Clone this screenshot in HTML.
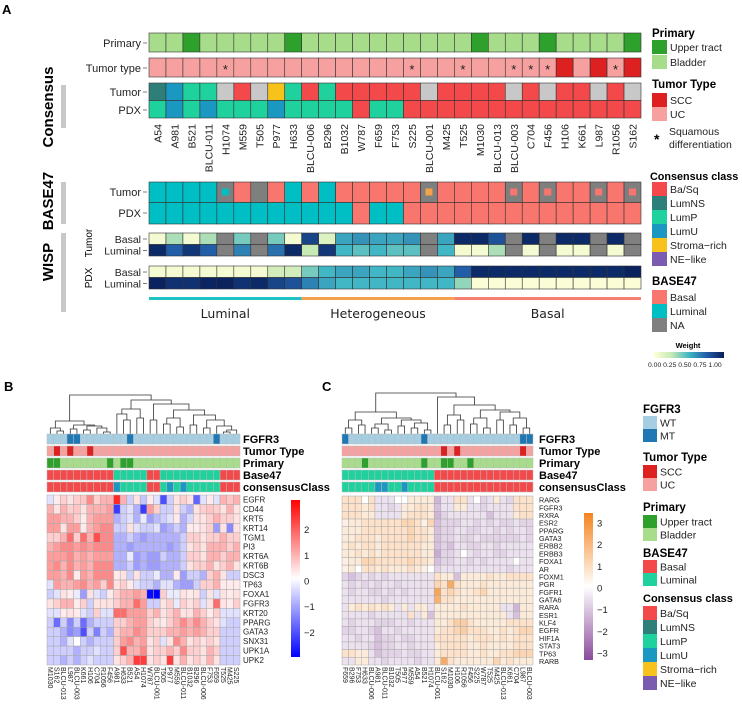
<!DOCTYPE html>
<html><head><meta charset="utf-8"><style>
html,body{margin:0;padding:0;background:#fff;}
svg{display:block;font-family:"Liberation Sans",sans-serif;}
</style></head><body>
<svg id="fig" width="742" height="709" viewBox="0 0 742 709" xmlns="http://www.w3.org/2000/svg">
<defs>
<linearGradient id="gW" x1="0" x2="1" y1="0" y2="0"><stop offset="0" stop-color="#ffffd9"/><stop offset="0.25" stop-color="#c7e9b4"/><stop offset="0.5" stop-color="#41b6c4"/><stop offset="0.75" stop-color="#225ea8"/><stop offset="1" stop-color="#081d58"/></linearGradient>
<linearGradient id="gB" x1="0" x2="0" y1="0" y2="1"><stop offset="0" stop-color="#ff0000"/><stop offset="0.5" stop-color="#ffffff"/><stop offset="1" stop-color="#0000ff"/></linearGradient>
<linearGradient id="gC" x1="0" x2="0" y1="0" y2="1"><stop offset="0" stop-color="#f5841f"/><stop offset="0.5" stop-color="#ffffff"/><stop offset="1" stop-color="#8b4a9c"/></linearGradient>
</defs>
<g id="A"></g>
<g id="B"></g>
<g id="C"></g>
<g id="L"></g>
</svg>
<script>
// ---------- Panel A data ----------
const samples = ["A54","A981","B521","BLCU-011","H1074","M559","T505","P977","H633","BLCU-006","B296","B1032","W787","F659","F753","S225","BLCU-001","M425","T525","M1030","BLCU-013","BLCU-003","C704","F456","H106","K661","L987","R1056","S162"];
const primaryUpper = ["B521","H633","M1030","F456","S162"];
const sccSamples = ["H106","L987","S162"];
const squamousDiff = ["H1074","S225","T525","BLCU-003","C704","F456","R1056"];
const consTumor = ["LumNS","LumU","LumP","LumP","NA","BaSq","NA","Stroma","LumP","BaSq","LumP","BaSq","BaSq","BaSq","BaSq","BaSq","NA","BaSq","BaSq","BaSq","BaSq","NA","BaSq","NA","BaSq","BaSq","NA","BaSq","NA"];
const consPDX = ["LumP","LumU","LumP","LumU","LumP","LumP","LumP","LumU","LumP","LumP","LumP","LumP","BaSq","LumP","LumP","BaSq","BaSq","BaSq","BaSq","BaSq","BaSq","BaSq","BaSq","BaSq","BaSq","BaSq","BaSq","BaSq","BaSq"];
const b47Tumor = ["L","L","L","L","NA:L","B","NA","B","L","B","L","B","B","B","B","B","NA:S","B","B","B","B","NA:B","B","NA:B","B","B","NA:B","B","NA:B"];
const b47PDX = ["L","L","L","L","L","L","L","L","L","L","L","L","B","L","L","B","B","B","B","B","B","B","B","B","B","B","B","B","B"];
const wispTumorBasal = [0.05,0.3,0.05,0.3,null,0.4,null,0.4,0.05,0.85,0.15,0.55,0.6,0.55,0.55,0.6,null,0.55,0.95,0.95,0.8,null,0.95,null,0.95,0.95,null,0.95,null];
const wispTumorLuminal = [0.95,0.75,0.9,0.75,null,0.65,null,0.7,0.95,0.25,0.9,0.5,0.45,0.5,0.45,0.45,null,0.5,0.05,0.05,0.3,null,0.05,null,0.05,0.05,null,0.05,null];
const wispPDXBasal = [0.05,0.05,0.05,0.05,0.05,0.05,0.05,0.2,0.2,0.4,0.5,0.55,0.55,0.5,0.5,0.55,0.6,0.55,0.75,0.95,0.95,0.95,0.95,0.95,0.95,0.95,0.95,0.95,0.98];
const wispPDXLuminal = [0.98,0.92,0.92,0.97,0.98,0.92,0.95,0.85,0.8,0.65,0.55,0.5,0.5,0.5,0.5,0.5,0.5,0.5,0.35,0.02,0.02,0.02,0.02,0.02,0.02,0.02,0.02,0.02,0.02];
const groups = [["Luminal",0,9,"#21c0c5"],["Heterogeneous",9,18,"#f5a04a"],["Basal",18,29,"#f57f72"]];
const fgfr3MT = ["L987","BLCU-003","B521","F659"];

// ---------- Panel B data ----------
const orderB = ["M1030","S162","BLCU-013","L987","BLCU-003","K661","H106","C704","R1056","F456","A981","H633","B521","A54","H1074","W787","BLCU-001","T505","P977","M559","BLCU-011","B1032","B296","BLCU-006","F753","F659","T525","M425","S225"];
const genesB = ["EGFR","CD44","KRT5","KRT14","TGM1","PI3","KRT6A","KRT6B","DSC3","TP63","FOXA1","FGFR3","KRT20","PPARG","GATA3","SNX31","UPK1A","UPK2"];
const exprB = [
[-0.3,0.2,0.5,0.3,0.5,0.6,1.2,0.5,0.8,0.8,2.2,0.8,-0.5,0.3,-0.6,0.2,-0.3,-1.8,-0.5,0.3,0.5,0.3,-1.6,-0.3,0.2,-0.3,0.8,0.6,0.8],
[0.8,0.3,0.8,0.5,0.6,0.3,0.8,0.8,0.8,1.0,-2.0,-0.5,-0.3,-0.8,-2.0,1.0,0.5,-0.5,-0.5,0.3,-0.5,-0.8,0.3,0.5,0.6,0.5,0.3,0.8,0.3],
[1.0,1.0,0.8,0.8,0.5,0.2,0.8,1.0,1.0,1.0,-0.8,-0.5,-0.3,-0.8,-0.2,-1.0,-0.7,-0.5,-0.3,0.2,-0.8,-0.4,0.3,0.3,0.5,0.8,0.5,0.5,0.3],
[1.0,1.0,0.3,1.0,1.0,0.2,0.8,1.0,1.2,1.2,-0.5,-0.5,0.3,-0.3,-0.5,-0.5,-0.3,-1.0,-0.8,-0.5,-0.8,0.2,0.2,0.3,0.5,-1.0,0.3,-1.2,0.3],
[0.5,0.5,0.8,1.5,0.5,1.5,0.8,1.8,1.2,1.2,-0.8,-0.8,-0.5,-0.8,-1.0,-0.8,-0.8,-0.8,-0.8,-0.8,-0.5,0.5,0.5,0.3,0.5,0.5,0.8,0.5,0.5],
[0.8,1.0,1.2,1.2,1.0,1.2,1.0,1.2,1.2,1.2,-0.8,-0.8,-1.0,-0.8,-0.8,-0.8,-0.8,-0.8,-1.0,-0.8,-0.5,0.3,0.5,0.3,0.8,0.8,0.8,0.5,0.8],
[1.0,1.0,1.0,1.2,0.8,1.0,0.8,1.0,1.0,1.0,-0.8,-0.8,-0.2,-1.0,-0.8,-1.0,-1.0,-0.5,-0.8,-0.8,-0.5,0.5,0.5,0.3,0.8,0.8,0.5,0.8,0.8],
[1.0,1.2,0.8,1.2,0.8,1.0,0.8,1.2,1.2,1.2,-0.8,-0.8,-0.5,-1.0,-0.8,-1.0,-1.0,-0.8,-0.8,-0.8,-0.5,0.3,0.5,0.5,0.8,0.3,0.5,0.8,0.3],
[1.0,1.0,0.8,1.2,0.2,1.0,0.8,1.2,1.2,1.2,0.2,0.3,-0.5,0.3,-0.5,-0.5,-0.2,-0.8,-0.8,0.2,-1.0,-0.5,-0.5,-0.8,0.5,0.8,0.3,-0.5,-0.5],
[-0.3,1.0,0.8,0.8,1.0,1.2,0.8,1.0,0.5,1.2,0.3,0.5,0.2,-0.3,-0.5,-0.5,-0.8,-0.3,-0.3,-0.8,-1.0,-1.0,-0.5,0.5,0.5,0.8,0.2,0.2,0.2],
[-0.5,-0.3,0.3,0.2,-0.2,-1.0,0.3,-0.3,-0.5,0.2,0.5,0.8,0.8,1.0,0.8,-2.5,-2.6,0.5,-0.2,-0.2,0.3,0.2,0.3,-0.5,0.3,-0.3,0.3,0.2,0.3],
[0.3,0.5,0.8,0.8,0.2,0.5,-0.5,0.3,0.3,0.3,0.5,0.8,0.8,1.5,1.0,-0.5,-0.5,0.3,0.5,-0.2,0.5,0.3,0.5,-0.3,0.3,1.5,0.3,0.2,0.5],
[-0.3,-0.3,0.2,0.3,0.2,-0.3,-0.5,0.5,-0.3,-0.3,1.5,1.5,1.0,1.0,1.0,0.5,0.8,0.3,0.5,0.8,0.3,0.3,0.8,0.5,0.2,0.5,-0.3,-0.3,-0.3],
[-0.5,-1.5,-0.5,-1.2,-0.5,-1.5,-0.8,-0.5,-0.5,-0.5,0.5,0.5,0.8,1.0,1.0,0.5,0.3,0.2,0.5,0.8,1.2,0.8,1.2,0.8,0.5,0.3,-0.3,-0.5,-0.5],
[-0.5,-0.5,-0.8,-1.2,-1.0,-1.8,-0.5,-1.3,-0.5,-0.8,0.5,0.8,0.8,1.2,1.0,0.5,0.5,0.5,0.8,0.8,1.0,0.8,1.0,0.8,0.5,0.5,-0.5,-0.5,-0.5],
[-0.5,-0.5,-0.8,-0.3,0.0,-0.5,-0.8,-0.5,-0.5,-0.5,0.5,1.0,1.2,0.8,1.0,0.3,0.5,-0.3,0.3,1.2,0.8,0.3,0.5,0.3,0.5,0.3,-0.5,-0.5,-0.5],
[-0.5,-0.5,-0.5,-0.5,-0.8,-0.5,-0.5,-0.3,-0.5,-0.5,0.5,1.8,0.8,0.8,1.2,0.3,0.5,0.5,0.8,0.5,1.2,0.5,0.5,0.3,0.8,0.5,-0.5,-0.5,-0.5],
[-0.5,-0.5,-0.8,-0.5,-0.8,-0.5,-0.3,-0.5,-0.5,-0.5,0.3,0.5,0.8,2.0,2.0,0.3,0.5,0.3,2.0,0.3,0.8,0.3,0.5,0.3,0.8,0.3,-0.5,-0.5,-0.5]];
const ticksB = [2,1,0,-1,-2];

// ---------- Panel C data ----------
const orderC = ["F659","B296","F753","H633","BLCU-006","A981","BLCU-011","B1032","T505","P977","M559","A54","B521","H1074","BLCU-001","S162","M1030","H106","R1056","F456","S225","W787","T525","M425","BLCU-013","K661","C704","L987","BLCU-003"];
const genesC = ["RARG","FGFR3","RXRA","ESR2","PPARG","GATA3","ERBB2","ERBB3","FOXA1","AR","FOXM1","PGR","FGFR1","GATA6","RARA","ESR1","KLF4","EGFR","HIF1A","STAT3","TP63","RARB"];
const exprC = [
[0.5,0.5,0.5,0,0.5,-0.3,-0.3,-0.3,0,0,0.3,0.3,0.3,0.3,-1.0,-0.3,-0.3,0.5,0.5,-0.3,0,-0.5,-0.3,0.3,-0.3,-0.5,0.5,0.5,0.5],
[0.5,0.5,0.5,0.3,0.5,-0.3,-0.3,-0.5,-0.3,0.3,0.3,0.5,0.5,0.3,-0.8,-0.3,-0.3,0.3,0.3,-0.3,-0.3,-0.5,-0.3,-0.3,-0.3,-0.3,0.5,0.5,0.5],
[0.5,0.5,0.5,0.3,0.3,-0.3,-0.3,-0.3,-0.3,0.3,0.5,0.5,0.5,0.3,-1.0,-0.5,-0.3,-0.3,-0.3,-0.3,-0.3,-0.3,-0.8,-0.3,-0.3,-0.3,0.3,0.5,0.5],
[0.2,0.3,0.3,0.5,0.5,0.5,0.5,0.5,0.5,0.8,0.8,0.5,0.2,0.8,-0.8,-0.5,-0.5,-0.5,-0.3,-0.3,-0.5,-0.3,-0.5,-0.3,-0.5,-0.5,-0.3,-0.5,-0.5],
[0.3,0.3,0.3,0.5,0.5,0.5,0.5,0.5,0.5,0.5,0.8,0.5,0.5,0.3,-0.8,-0.5,-0.5,-0.3,-0.3,-0.5,-0.5,-0.3,-0.3,-0.5,-0.3,-0.5,-0.3,-0.3,-0.5],
[0.3,0.3,0.5,0.5,0.5,0.3,0.5,0.5,0.5,0.5,0.8,0.5,0.5,0.3,-0.8,-0.5,-0.5,-0.3,-0.5,-0.5,-0.3,-0.5,-0.5,-0.5,-0.5,-0.5,-0.5,-0.3,-0.5],
[0.3,0.5,0.3,0.5,0.5,0.3,0.5,0.5,0.5,0.5,0.5,0.5,0.3,0.3,-0.8,-0.5,-0.8,-0.3,-0.3,-0.5,-0.5,-0.3,-0.3,-0.5,-0.3,-0.3,-0.3,-0.3,-0.3],
[0.3,0.3,0.5,0.3,0.5,0.3,0.5,0.5,0.5,0.5,0.5,0.5,0.3,0.3,-1.2,-0.5,-0.5,-0.3,0,-0.3,-0.5,-0.3,-0.3,-0.5,-0.5,-0.3,-0.3,-0.3,-0.3],
[0.2,0.3,0.3,0.8,0.8,0.5,0.5,0.5,0.5,0.5,0.8,0.5,0.5,0.3,-0.8,-0.5,-0.5,-0.3,-0.3,-0.5,-0.3,-0.5,-0.3,-0.3,-0.3,-0.3,0.0,-0.3,-0.3],
[0.2,0.3,0,0.5,0.5,0.3,0.5,0.3,0.3,0.3,0.5,0.3,0.2,0,-0.5,-0.3,-0.3,-0.3,-0.3,-0.3,-0.3,-0.3,-0.3,-0.3,-0.3,-0.5,-0.3,-0.3,-0.3],
[-0.5,-0.8,-0.5,-0.3,-0.5,-0.3,-0.5,-0.3,-0.3,-0.3,-0.3,-0.3,-0.3,-0.3,0.5,0.3,0.3,-0.8,0.3,0.3,0.3,0.3,0.5,0.3,0.3,0.5,0.5,0.5,0.5],
[-0.3,-0.5,-0.3,-0.5,-0.3,-0.5,-0.3,-0.3,-0.5,-0.3,-0.3,-0.3,-0.3,-0.3,0.8,0.5,2.0,0.5,0.3,0.3,0.3,0.5,0.3,0.3,0.3,0.3,0.3,0.3,0.3],
[-0.3,-0.5,-0.3,-0.3,-0.5,-0.5,-0.3,-0.5,-0.3,-0.5,-0.3,-0.3,-0.3,-0.3,2.2,0.5,0.8,0.5,0.3,0.3,0.5,0.8,0.3,0.3,0.3,0.3,0.3,0.3,0.3],
[-0.3,-0.3,-0.3,-0.3,-0.3,-0.3,-0.5,-0.3,-0.3,-0.3,-0.3,-0.3,-0.3,-0.3,1.8,0.5,0.5,0.3,0.3,0.3,0.3,0.3,0.3,0.3,0.3,0.3,0.3,0.3,0.3],
[-0.3,0.3,0.5,0.3,0.5,0.3,0.5,0.3,-0.3,0.3,-0.3,0.3,0.3,-0.3,0.3,0.3,0.3,0.3,0.5,0.3,0.3,0.3,0.3,0.3,-0.3,-0.3,-1.0,0.3,0.3],
[-0.3,-0.3,-0.3,-0.3,-0.5,-0.3,-0.3,-0.3,-0.3,-0.3,0.5,-0.3,0.3,-0.8,0.3,0.3,0.3,0.3,0.3,0.3,0.3,0.3,0.3,0.3,0.3,-0.3,-0.8,0.3,0.3],
[-0.3,-0.5,-0.3,-0.3,-0.3,-0.5,-0.5,-0.5,-0.3,-0.3,-0.5,-0.3,-0.3,-0.3,0.3,0.3,0.5,1.0,1.0,0.5,0.3,0.3,0.3,0.3,0.3,0.5,0.5,0.5,0.5],
[-0.5,-0.5,-0.3,-0.3,-0.5,-0.8,-0.3,-0.3,-0.5,-0.3,-0.3,-0.3,-0.3,-0.3,0.3,0.5,0.5,0.8,1.0,0.5,0.5,0.5,0.3,0.3,0.5,0.3,0.5,0.8,0.8],
[-0.3,-0.3,-0.5,-0.3,-0.3,-0.8,-0.5,-0.5,-0.3,-0.5,-0.5,-0.3,-0.3,-0.3,0.5,0.5,0.5,0.5,0.5,0.3,0.5,0.5,0.5,0.3,0.5,0.3,0.5,0.5,0.5],
[-0.3,-0.3,-0.3,-0.3,-0.5,-0.8,-0.5,-0.5,-0.3,-0.3,-0.5,-0.3,-0.3,-0.3,0.3,0.5,0.5,0.5,0.5,0.3,0.3,0.5,0.3,0.3,0.3,0.3,0.5,0.5,0.5],
[0.5,0.5,0.3,0.3,-0.3,-0.8,-0.5,-0.5,-0.5,-0.3,-0.5,-0.5,-0.3,-0.3,0.3,0.5,0.5,0.5,0.5,0.3,0.3,0.5,0.3,0.3,0.5,0.5,0.8,0.8,0.8],
[-0.3,-0.3,0.3,0.3,-0.3,-0.3,-0.5,-0.3,-0.3,-0.3,-0.3,-0.5,-0.3,-0.3,0.3,2.0,0.5,0.3,0.3,0.3,0.3,0.3,0.3,0.8,0.3,0.5,0.3,0.3,0.3]];
const ticksC = [3,2,1,0,-1,-2,-3];

// dendrogram topologies (merge heights in px-from-top, leaves = column index)
const treeB = [395,[421,[428,0,[431,1,2]],[425,[429,3,4],[426,[430,5,6],[428,7,[432,8,9]]]]],[400,[409,[414,10,[420,11,12]],[418,13,14]],[404,[420,15,16],[410,[418,[424,17,18],[427,19,20]],[415,[425,21,22],[420,[428,23,24],[426,25,[430,[432,26,27],28]]]]]]]];
const treeC = [393,[412,[420,[428,0,1],[425,2,3]],[418,[424,[428,4,5],[430,6,7]],[420,[426,8,9],[423,[428,10,11],[430,12,13]]]]],[397,14,[405,[415,[425,15,16],[420,17,18]],[410,[418,[424,19,20],[428,21,22]],[412,[420,23,24],[418,[425,25,26],[428,27,28]]]]]]];

// ---------- helpers ----------
const NS="http://www.w3.org/2000/svg";
function mk(parent,tag,attrs,text){const e=document.createElementNS(NS,tag);for(const k in attrs)e.setAttribute(k,attrs[k]);if(text!==undefined)e.textContent=text;parent.appendChild(e);return e;}
const consCol={BaSq:"#f4494b",LumNS:"#2e7f7a",LumP:"#1fd19c",LumU:"#1a98c1",Stroma:"#f6c21b",NE:"#7b5bb0",NA:"#c8c8c8"};
const b47Col={B:"#f8766d",L:"#00bfc4",NA:"#7f7f7f",S:"#f5a04a"};
const b47ColBC={B:"#f4494b",L:"#1fd19c"};
function lerp(a,b,t){return a.map((v,i)=>Math.round(v+(b[i]-v)*t));}
function hex(h){return [1,3,5].map(i=>parseInt(h.substr(i,2),16));}
function rgb(a){return "rgb("+a.join(",")+")";}
const ylg=["#ffffd9","#c7e9b4","#41b6c4","#225ea8","#081d58"].map(hex);
function wCol(v){if(v===null)return "#808080";const p=v*4;const i=Math.min(3,Math.floor(p));return rgb(lerp(ylg[i],ylg[i+1],p-i));}
function colB(v){const t=Math.min(1,Math.abs(v)/2.6);return rgb(lerp([255,255,255],v>0?[255,0,0]:[0,0,255],t));}
function colC(v){const t=Math.min(1,Math.pow(Math.abs(v)/3.3,0.75));return rgb(lerp([255,255,255],v>0?[245,132,31]:[139,74,156],t));}

// ---------- Panel A ----------
const A=document.getElementById("A");
mk(A,"text",{x:2,y:14,"font-size":13,"font-weight":"bold",},"A");
const ax0=149, acw=492/samples.length;
const xA=i=>ax0+i*acw;
function rowLabel(txt,y,size){const t=mk(A,"text",{x:141,y:y+4,"font-size":size||11,"text-anchor":"end",fill:"#222"},txt);


mk(A,"line",{x1:143,x2:147,y1:y,y2:y,stroke:"#444","stroke-width":0.7});}
function cell(g,x,y,w,h,fill,name,sw,sc){const r=mk(g,"rect",{x:x,y:y,width:w,height:h,fill:fill,stroke:sc||"#333","stroke-width":sw===undefined?0.6:sw});


return r;}
samples.forEach((s,i)=>{
  cell(A,xA(i),33,acw,19,primaryUpper.includes(s)?"#2ea02c":"#a6dc8a","primary-cell");
  cell(A,xA(i),58,acw,19,sccSamples.includes(s)?"#dd2020":"#f7a0a0","tumor-type-cell");
  if(squamousDiff.includes(s)){const t=mk(A,"text",{x:xA(i)+acw/2,y:74,"font-size":13,"text-anchor":"middle",fill:"#222"},"*");
    
    }
  cell(A,xA(i),83,acw,17.5,consCol[consTumor[i]],"consensus-tumor-cell");
  cell(A,xA(i),100.5,acw,17.5,consCol[consPDX[i]],"consensus-pdx-cell");
  const bt=b47Tumor[i].split(":");
  cell(A,xA(i),182,acw,20.5,b47Col[bt[0]],"base47-tumor-cell");
  if(bt[1]) cell(A,xA(i)+acw/2-3.5,188.5,7,7,b47Col[bt[1]],"base47-inner-cell",0);
  cell(A,xA(i),202.5,acw,21.5,b47Col[b47PDX[i]],"base47-pdx-cell");
  cell(A,xA(i),233,acw,11.5,wCol(wispTumorBasal[i]),"wisp-tumor-basal-cell");
  cell(A,xA(i),244.5,acw,11.5,wCol(wispTumorLuminal[i]),"wisp-tumor-luminal-cell");
  cell(A,xA(i),266,acw,11.5,wCol(wispPDXBasal[i]),"wisp-pdx-basal-cell");
  cell(A,xA(i),277.5,acw,11.5,wCol(wispPDXLuminal[i]),"wisp-pdx-luminal-cell");
  const cx=xA(i)+acw/2+4;
  const st=mk(A,"text",{x:cx,y:124,"font-size":10.5,"text-anchor":"end",fill:"#222",transform:`rotate(-90 ${cx} 124)`},s);
  
  
});
rowLabel("Primary",43);rowLabel("Tumor type",68);rowLabel("Tumor",92);rowLabel("PDX",110);
rowLabel("Tumor",192);rowLabel("PDX",213);rowLabel("Basal",239,10.5);rowLabel("Luminal",250.5,10.5);rowLabel("Basal",272,10.5);rowLabel("Luminal",283.5,10.5);
[["Consensus",107,85,128],["BASE47",201,182,224],["WISP",262,233,312]].forEach(([t,cy,y1,y2])=>{
  const e=mk(A,"text",{x:53,y:cy,"font-size":15,"font-weight":"bold","text-anchor":"middle",transform:`rotate(-90 53 ${cy})`},t);
  
  
  const r=mk(A,"rect",{x:61,y:y1,width:5,height:y2-y1,fill:"#c8c8c8"});
  
  
});
[["Tumor",243],["PDX",278]].forEach(([t,cy])=>{const e=mk(A,"text",{x:92,y:cy,"font-size":10,"text-anchor":"middle",transform:`rotate(-90 92 ${cy})`},t);
  
  });
groups.forEach(([name,s,e,c])=>{
  const r=mk(A,"rect",{x:xA(s),y:297,width:xA(e)-xA(s),height:3,fill:c});
  
  
  const t=mk(A,"text",{x:(xA(s)+xA(e))/2,y:318,"font-size":12.5,"text-anchor":"middle",fill:"#222","font-family":"DejaVu Sans, sans-serif"},name);
  
  
});

// ---------- heatmap panels ----------
const info={};samples.forEach((s,i)=>info[s]={pr:primaryUpper.includes(s),scc:sccSamples.includes(s),cons:consPDX[i],b47:b47PDX[i],mt:fgfr3MT.includes(s)});
function drawTree(g,node,xf,leafY){
  if(typeof node==="number") return [xf(node),leafY];
  const l=drawTree(g,node[1],xf,leafY), r=drawTree(g,node[2],xf,leafY), y=node[0];
  const p=mk(g,"path",{d:`M${l[0]} ${l[1]}V${y}H${r[0]}V${r[1]}`,fill:"none",stroke:"#333","stroke-width":0.8});
  
  
  return [(l[0]+r[0])/2,y];
}
function panel(g,label,lx,order,genes,expr,x0,x1,hy0,hy1,colf,tree,labX,bar,ticks,grad,tickStep){
  const t=mk(g,"text",{x:lx,y:391,"font-size":13,"font-weight":"bold"},label);
  
  
  const cw=(x1-x0)/order.length, x=i=>x0+i*cw;
  drawTree(g,tree,i=>x(i)+cw/2,434);
  const annRows=[["FGFR3",434,s=>info[s].mt?"#1f78b4":"#a6cee3"],["Tumor Type",446,s=>info[s].scc?"#dd2020":"#f7a0a0"],["Primary",458,s=>info[s].pr?"#2ea02c":"#a6dc8a"],["Base47",470,s=>b47ColBC[info[s].b47]],["consensusClass",482,s=>consCol[info[s].cons]]];
  annRows.forEach(([name,y,f])=>{
    order.forEach((s,i)=>cell(g,x(i),y,cw,10,f(s),"annotation-cell",0.5,"#bbb"));
    const e=mk(g,"text",{x:labX,y:y+9,"font-size":11,"font-weight":"bold"},name);
    
    
  });
  const rh=(hy1-hy0)/genes.length;
  genes.forEach((gn,r)=>{
    order.forEach((s,i)=>cell(g,x(i),hy0+r*rh,cw,rh,colf(expr[r][i]),"heat-cell",0.5,"#aaa"));
    const e=mk(g,"text",{x:labX,y:hy0+r*rh+rh/2+2.8,"font-size":rh>8.5?8:7.2,fill:"#222"},gn);
    
    
  });
  order.forEach((s,i)=>{const cx=x(i)+cw/2-2.5;const e=mk(g,"text",{x:cx,y:667,"font-size":7,fill:"#222",transform:`rotate(90 ${cx} 667)`},s);
    
    });
  const r=mk(g,"rect",{x:bar[0],y:bar[1],width:9,height:bar[2]-bar[1],fill:`url(#${grad})`});
  
  
  ticks.forEach(v=>{const e=mk(g,"text",{x:bar[0]+13,y:tickStep[0]-v*tickStep[1]+3.5,"font-size":9.5,fill:"#222"},v<0?"\u2212"+(-v):String(v));
    
    });
}
panel(document.getElementById("B"),"B",4,orderB,genesB,exprB,47,240,495,665,colB,treeB,243,[291,500,657],ticksB,"gB",[581,25.7]);
panel(document.getElementById("C"),"C",322,orderC,genesC,exprC,342,533,496,665,colC,treeC,539,[584,513,660],ticksC,"gC",[588,21.7]);

// ---------- legends ----------
const Lg=document.getElementById("L");
function legTitle(t,x,y,fs){const e=mk(Lg,"text",{x:x,y:y,"font-size":fs||11.5,"font-weight":"bold"},t);
  
  }
function legItem(t,c,x,y,w,h){const r=mk(Lg,"rect",{x:x,y:y,width:w,height:h,fill:c});
  
  
  const e=mk(Lg,"text",{x:x+w+3,y:y+h/2+3.8,"font-size":10.5,fill:"#222"},t);
  
  }
// Panel A legend
legTitle("Primary",652,37);legItem("Upper tract","#2ea02c",652,40,15,14);legItem("Bladder","#a6dc8a",652,55,15,14);
legTitle("Tumor Type",652,88);legItem("SCC","#dd2020",652,93,15,14);legItem("UC","#f7a0a0",652,107,15,14);
{const e=mk(Lg,"text",{x:654,y:144,"font-size":14,"font-weight":"bold"},"*");
 const a=mk(Lg,"text",{x:669,y:135,"font-size":10.5,fill:"#222"},"Squamous");
 const b=mk(Lg,"text",{x:669,y:148,"font-size":10.5,fill:"#222"},"differentiation");}
legTitle("Consensus class",650,180,10.8);
[["Ba/Sq","BaSq"],["LumNS","LumNS"],["LumP","LumP"],["LumU","LumU"],["Stroma\u2212rich","Stroma"],["NE\u2212like","NE"]].forEach(([t,k],i)=>legItem(t,consCol[k],652,182+i*14,15,14));
legTitle("BASE47",652,285);legItem("Basal",b47Col.B,652,290,15,14);legItem("Luminal",b47Col.L,652,304,15,14);legItem("NA",b47Col.NA,652,318,15,14);
{const e=mk(Lg,"text",{x:688,y:348,"font-size":7.5,"font-weight":"bold","text-anchor":"middle"},"Weight");
 const r=mk(Lg,"rect",{x:654,y:352,width:70,height:6,fill:"url(#gW)"});
 const t=mk(Lg,"text",{x:648,y:367,"font-size":6.8,fill:"#222"},"0.00 0.25 0.50 0.75 1.00");}
// Panel B/C legend
legTitle("FGFR3",643,413);legItem("WT","#a6cee3",643,416,14,13);legItem("MT","#1f78b4",643,429,14,13);
legTitle("Tumor Type",643,461);legItem("SCC","#dd2020",643,465,14,13);legItem("UC","#f7a0a0",643,478,14,13);
legTitle("Primary",643,511);legItem("Upper tract","#2ea02c",643,515,14,13);legItem("Bladder","#a6dc8a",643,528,14,13);
legTitle("BASE47",643,557);legItem("Basal","#f4494b",643,560,14,13);legItem("Luminal","#1fd19c",643,573,14,13);
legTitle("Consensus class",643,602,11);
[["Ba/Sq","BaSq"],["LumNS","LumNS"],["LumP","LumP"],["LumU","LumU"],["Stroma\u2212rich","Stroma"],["NE\u2212like","NE"]].forEach(([t,k],i)=>legItem(t,consCol[k],643,606+i*14,14,14));
</script>
</body></html>
